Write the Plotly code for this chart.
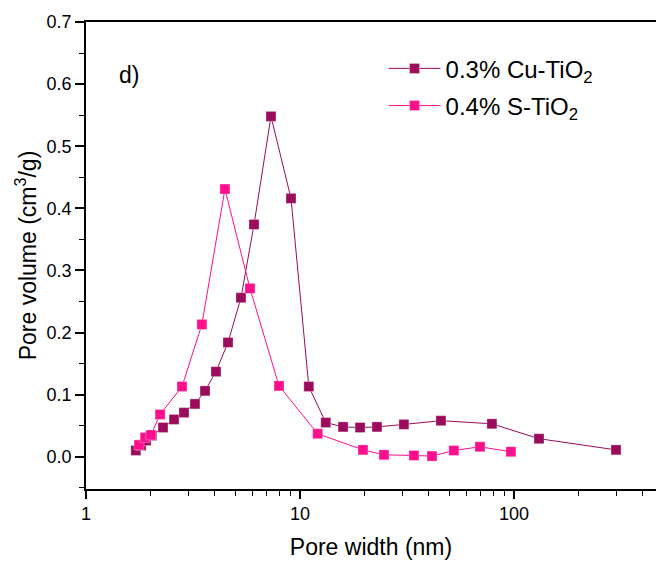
import plotly.graph_objects as go

# Pore size distribution (BJH) for the two doped TiO2 samples
cu_width = [1.71, 1.81, 1.91, 2.03, 2.29, 2.58, 2.87, 3.23, 3.60, 4.05, 4.61, 5.30,
            6.10, 7.32, 9.08, 11.0, 13.2, 15.9, 19.1, 22.9, 30.6, 45.6, 78.9, 131, 300]
cu_volume = [0.010, 0.018, 0.026, 0.034, 0.047, 0.060, 0.071, 0.085, 0.106, 0.137, 0.184, 0.256,
             0.374, 0.548, 0.416, 0.113, 0.055, 0.048, 0.047, 0.048, 0.052, 0.058, 0.053, 0.029, 0.011]

s_width = [1.77, 1.89, 2.01, 2.22, 2.81, 3.48, 4.46, 5.84, 7.98, 12.1, 19.7, 24.7,
           34.1, 41.4, 52.4, 69.4, 96.8]
s_volume = [0.019, 0.031, 0.035, 0.068, 0.113, 0.213, 0.431, 0.271, 0.114, 0.037, 0.011, 0.003,
            0.002, 0.001, 0.010, 0.016, 0.008]

series_names = ["0.3% Cu-TiO<sub>2</sub>", "0.4% S-TiO<sub>2</sub>"]
series_colors = ["#9c0c5c", "#ff0f8e"]

x_tickvals = [1, 10, 100]
x_ticktext = ["1", "10", "100"]
y_tickvals = [0.0, 0.1, 0.2, 0.3, 0.4, 0.5, 0.6, 0.7]

FONT = "Liberation Sans, Arial, sans-serif"

fig = go.Figure()
for i, (xs, ys, name, color) in enumerate([(cu_width, cu_volume, series_names[0], series_colors[0]),
                                           (s_width, s_volume, series_names[1], series_colors[1])]):
    fig.add_trace(go.Scatter(
        x=xs, y=ys, name=name, mode="lines+markers", legendgroup=f"g{i}",
        line=dict(color=color, width=1),
        marker=dict(symbol="square", size=10, color=color,
                    line=dict(color="rgba(255,255,255,0.5)", width=0.6)),
    ))

fig.add_annotation(text="d)", x=0.054, y=0.886, xref="paper", yref="paper",
                   showarrow=False, xanchor="left", yanchor="middle",
                   font=dict(family=FONT, size=23, color="black"))

fig.update_layout(
    width=656, height=561,
    margin=dict(l=86, r=0, t=22, b=72),
    paper_bgcolor="white", plot_bgcolor="white",
    font=dict(family=FONT, color="black"),
    showlegend=True,
    legend=dict(x=0.522, y=0.948, xanchor="left", yanchor="top",
                bgcolor="rgba(0,0,0,0)", font=dict(family=FONT, size=24),
                itemwidth=52, tracegroupgap=3),
    xaxis=dict(
        type="log", range=[0, 2.664],
        tickvals=x_tickvals, ticktext=x_ticktext,
        ticks="outside", ticklen=8, tickwidth=1.5, tickcolor="black",
        minor=dict(ticks="outside", ticklen=5, tickwidth=1, tickcolor="black", dtick="D1"),
        showline=True, linecolor="black", linewidth=1.5, mirror=True,
        showgrid=False, zeroline=False,
        tickfont=dict(family=FONT, size=18),
        title=dict(text="Pore width (nm)", font=dict(family=FONT, size=23), standoff=16),
    ),
    yaxis=dict(
        range=[-0.052, 0.7],
        tickvals=y_tickvals, tickformat=".1f",
        ticks="outside", ticklen=9, tickwidth=1.5, tickcolor="black",
        minor=dict(ticks="outside", ticklen=5, tickwidth=1, tickcolor="black", dtick=0.05),
        showline=True, linecolor="black", linewidth=1.5,
        showgrid=False, zeroline=False,
        tickfont=dict(family=FONT, size=18),
        title=dict(text="Pore volume (cm<sup>3</sup>/g)", font=dict(family=FONT, size=23), standoff=4),
    ),
)

fig.write_html("out.html")
